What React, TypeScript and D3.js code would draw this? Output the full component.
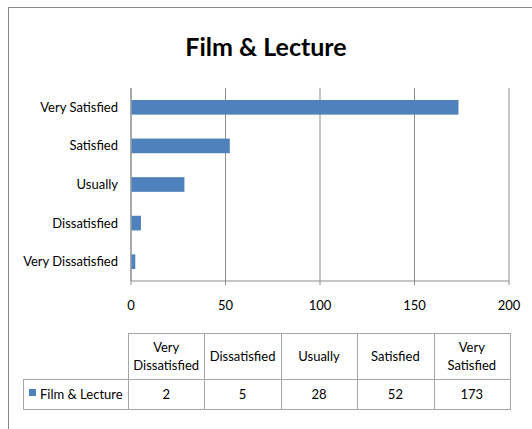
import * as React from "react";
import * as d3 from "d3";

// data
const categories = ["Very Dissatisfied", "Dissatisfied", "Usually", "Satisfied", "Very Satisfied"];
const values = [2, 5, 28, 52, 173];
const seriesName = "Film & Lecture";
const xTicks = [0, 50, 100, 150, 200];
// header labels of the data table, split over lines
const headerLines = [["Very", "Dissatisfied"], ["Dissatisfied"], ["Usually"], ["Satisfied"], ["Very", "Satisfied"]];

const W = 532;
const H = 429;
const FONT = "Lato, 'Open Sans', sans-serif";
const BLUE = "#4F81BD";
const GRID = "#8c8c8c";
const TABLE_LINE = "#a6a6a6";

const App = () => {
  const plot = { left: 131, right: 509, top: 88, bottom: 281 };

  const x = d3.scaleLinear().domain([0, 200]).range([plot.left, plot.right]);
  // top category is the last one (Very Satisfied), like Excel's reversed bar order
  const y = d3
    .scaleBand()
    .domain([...categories].reverse())
    .range([plot.top, plot.bottom])
    .paddingInner(0.62)
    .paddingOuter(0.31);

  const table = { left: 23, top: 333, headerBottom: 379, bottom: 409 };
  const colX = d3.scaleBand().domain(categories).range([plot.left - 3, plot.right + 1]);

  return (
    <svg width={W} height={H} style={{ position: "absolute", left: 0, top: 0 }} fontFamily={FONT}>
      <rect x={0} y={0} width={W} height={H} fill="#fff" />
      <rect x={8.5} y={7.5} width={W + 20} height={H + 20} fill="none" stroke="#888" strokeWidth={1} />

      <text x={266} y={56} textAnchor="middle" fontSize={25} fontWeight="bold" fill="#000">
        {seriesName}
      </text>

      {/* vertical gridlines */}
      {xTicks.map((t) => (
        <line key={t} x1={x(t)} x2={x(t)} y1={plot.top} y2={plot.bottom} stroke={GRID} strokeWidth={1} />
      ))}
      {/* small tick marks on the axis */}
      {xTicks.map((t) => (
        <line key={"tk" + t} x1={x(t)} x2={x(t)} y1={plot.bottom} y2={plot.bottom + 4} stroke={GRID} />
      ))}
      <line x1={plot.left} x2={plot.right} y1={plot.bottom} y2={plot.bottom} stroke={GRID} />
      <line x1={plot.left} x2={plot.left} y1={plot.top} y2={plot.bottom} stroke={GRID} />

      {categories.map((c, i) => (
        <rect key={c} x={x(0) + 0.5} y={y(c)} width={x(values[i]) - x(0)} height={y.bandwidth()} fill={BLUE} />
      ))}

      {categories.map((c) => (
        <text key={"l" + c} x={plot.left - 13} y={(y(c) ?? 0) + y.bandwidth() / 2} dy="0.35em" textAnchor="end" fontSize={13} fill="#000">
          {c}
        </text>
      ))}

      {xTicks.map((t) => (
        <text key={"t" + t} x={x(t)} y={305} dy="0.35em" textAnchor="middle" fontSize={13} fill="#000">
          {t}
        </text>
      ))}

      {/* data table */}
      <g stroke={TABLE_LINE} strokeWidth={1} fill="none">
        <rect x={colX.range()[0] + 0.5} y={table.top + 0.5} width={colX.range()[1] - colX.range()[0]} height={table.bottom - table.top} />
        <rect x={table.left + 0.5} y={table.headerBottom + 0.5} width={colX.range()[0] - table.left} height={table.bottom - table.headerBottom} />
        <line x1={colX.range()[0]} x2={colX.range()[1]} y1={table.headerBottom + 0.5} y2={table.headerBottom + 0.5} />
        {categories.slice(1).map((c) => (
          <line key={"cl" + c} x1={Math.round(colX(c) ?? 0) + 0.5} x2={Math.round(colX(c) ?? 0) + 0.5} y1={table.top} y2={table.bottom} />
        ))}
      </g>

      {categories.map((c, i) => {
        const cx = (colX(c) ?? 0) + colX.bandwidth() / 2;
        const lines = headerLines[i];
        const mid = (table.top + table.headerBottom) / 2;
        return (
          <g key={"h" + c}>
            {lines.map((s, k) => (
              <text key={k} x={cx} y={mid + (k - (lines.length - 1) / 2) * 18} dy="0.35em" textAnchor="middle" fontSize={13} fill="#000">
                {s}
              </text>
            ))}
            <text x={cx} y={(table.headerBottom + table.bottom) / 2} dy="0.35em" textAnchor="middle" fontSize={13} fill="#000">
              {values[i]}
            </text>
          </g>
        );
      })}

      <rect x={29} y={389} width={7} height={7} fill={BLUE} />
      <text x={40} y={(table.headerBottom + table.bottom) / 2} dy="0.35em" fontSize={13} fill="#000">
        {seriesName}
      </text>
    </svg>
  );
};

export default App;
